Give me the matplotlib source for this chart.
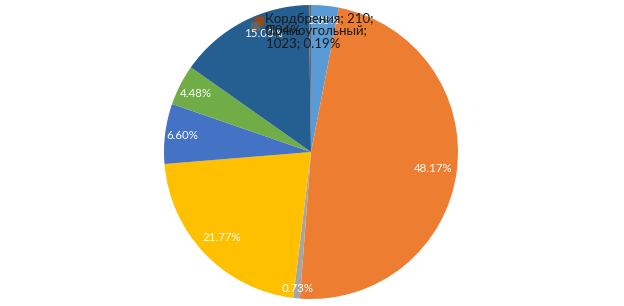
import matplotlib
matplotlib.use('Agg')
import matplotlib.pyplot as plt
import matplotlib.transforms as mtransforms
import numpy as np

# slice shares in percent, clockwise from 12 o'clock
shares = [3.05, 48.17, 0.73, 21.77, 6.60, 4.48, 15.00, 0.04, 0.19]
colors = ['#5B9BD5', '#ED7D31', '#A5A5A5', '#FFC000', '#4472C4',
          '#70AD47', '#255E91', '#9E480E', '#636363']
# radial position of the white percent labels (fraction of radius)
label_dist = [0.9, 0.84, 0.93, 0.84, 0.88, 0.88, 0.87, None, None]

small_names = ['Кордбрения', 'Прямоугольный']
small_counts = [210, 1023]

plt.rcParams['font.family'] = ['Lato', 'DejaVu Sans']

fig = plt.figure(figsize=(6.24, 3.06), dpi=100)
ax = fig.add_axes([164 / 624, 7 / 306, 294 / 624, 294 / 306])

wedges, _ = ax.pie(shares, colors=colors, startangle=90, counterclock=False,
                   radius=1.0, wedgeprops=dict(linewidth=0))
ax.set_xlim(-1, 1)
ax.set_ylim(-1, 1)
ax.set_aspect('equal')
ax.axis('off')

# white percent labels inside the slices
for w, s, d in zip(wedges, shares, label_dist):
    if d is None:
        continue
    ang = np.deg2rad((w.theta1 + w.theta2) / 2)
    # Excel pulls the 15% label a bit towards the top
    if s == 15.00:
        ang -= np.deg2rad(6)
    ax.text(d * np.cos(ang), d * np.sin(ang), f'{s:.2f}%', color='white',
            fontsize=8.3, ha='center', va='center')

# callout labels for the two tiny slices, with their colour keys
texts = [f'{small_names[0]}; {small_counts[0]};\n{shares[7]:.2f}%',
         f'{small_names[1]};\n{small_counts[1]}; {shares[8]:.2f}%']
text_off = [(-44, -8), (-44, -20)]
key_off = [(-50, -16), (-55, -21)]
for w, t, toff, koff, c in zip(wedges[7:], texts, text_off, key_off, colors[7:]):
    ang = np.deg2rad((w.theta1 + w.theta2) / 2)
    tip = (np.cos(ang), np.sin(ang))
    tr = mtransforms.offset_copy(ax.transData, fig=fig, x=koff[0], y=koff[1],
                                 units='dots')
    ax.plot([tip[0]], [tip[1]], marker='s', markersize=5.5, color=c,
            linestyle='none', transform=tr, clip_on=False)
    ax.annotate(t, xy=tip, xytext=toff, textcoords='offset pixels',
                fontsize=9.5, color='#1a1a1a', ha='left', va='top',
                linespacing=1.0)

fig.savefig('out.png', dpi=100)
